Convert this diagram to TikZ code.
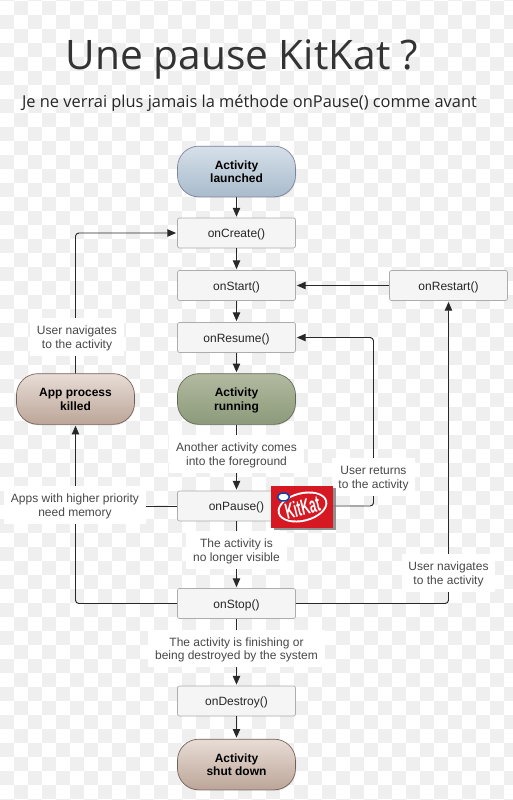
\documentclass[tikz,border=0pt]{standalone}
\usepackage{fontspec}
\setmainfont{Liberation Sans}
\newfontfamily\titlefont{Open Sans}
\usetikzlibrary{arrows.meta, shapes.geometric, shadows}
\definecolor{CheckGray}{RGB}{239, 239, 239}
\definecolor{LabelGray}{RGB}{72, 72, 72}
\definecolor{LineDark}{RGB}{40, 40, 40}
\definecolor{KitRed}{RGB}{214, 24, 34}
\definecolor{BlueTop}{RGB}{214, 224, 233}
\definecolor{BlueBot}{RGB}{168, 187, 204}
\definecolor{BlueEdge}{RGB}{125, 130, 160}
\definecolor{GreenTop}{RGB}{178, 186, 160}
\definecolor{GreenBot}{RGB}{140, 154, 122}
\definecolor{GreenEdge}{RGB}{95, 105, 85}
\definecolor{BrownTop}{RGB}{232, 221, 214}
\definecolor{BrownBot}{RGB}{188, 165, 152}
\definecolor{BrownEdge}{RGB}{115, 95, 85}
\tikzset{
    stepbox/.style={draw=black!32, fill=black!4, rounded corners=1.5pt, minimum width=88.5pt, minimum height=22.5pt, inner sep=0pt, text height=7pt, text depth=0pt, font=\fontsize{9}{11}\selectfont, text=black!85, line width=.5pt},
    statebox/.style={draw=#1Edge, top color=#1Top, bottom color=#1Bot, rounded corners=16pt, minimum width=88.5pt, minimum height=38pt, inner sep=0pt, align=center, text height=17pt, text depth=0pt, font=\fontsize{9}{10.3}\selectfont\bfseries, line width=.5pt, drop shadow={opacity=.25, shadow xshift=.4pt, shadow yshift=-.7pt}},
    note/.style={fill=white, align=center, text=LabelGray, inner xsep=5pt, inner ysep=5.5pt, text height=17pt, text depth=0pt, font=\fontsize{9}{10.3}\selectfont},
    flow/.style={-{Triangle[length=6.5pt,width=5.5pt]}, LineDark, line width=.7pt, shorten >=.8pt},
    bent/.style={flow, rounded corners=2.5pt},
}
\begin{document}
\begin{tikzpicture}[x=.75pt, y=-.75pt]
    \useasboundingbox (0,0) rectangle (513,800);
    % checker background
    \fill[white] (0,0) rectangle (513,800);
    \foreach \i in {0,...,36} {
        \foreach \j in {-1,...,57} {
            \pgfmathparse{int(mod(\i+\j+2,2))}
            \ifnum\pgfmathresult=1
                \fill[CheckGray] ({\i*14},{\j*14+1}) rectangle ++(14,14);
            \fi
        }
    }

    % title
    \node[anchor=base, text=black!80, font=\titlefont\fontsize{30.5}{33}\selectfont] (title) at (242,69) {Une pause KitKat ?};
    \node[anchor=base, text=black!85, font=\titlefont\fontsize{12.3}{14}\selectfont] (subtitle) at (249.5,107) {Je ne verrai plus jamais la méthode onPause() comme avant};

    % states
    \node[statebox=Blue] (launched) at (236.5,171.5) {Activity\\launched};
    \node[statebox=Green] (running) at (236.5,399) {Activity\\running};
    \node[statebox=Brown] (killed) at (75.5,399) {App process\\killed};
    \node[statebox=Brown] (shutdown) at (236.5,764.5) {Activity\\shut down};

    % callbacks
    \node[stepbox] (create) at (236.5,233) {onCreate()};
    \node[stepbox] (start) at (236.5,285.5) {onStart()};
    \node[stepbox] (resume) at (236.5,337.5) {onResume()};
    \node[stepbox] (pause) at (236.5,506) {onPause()};
    \node[stepbox] (stop) at (236.5,603.5) {onStop()};
    \node[stepbox] (destroy) at (236.5,701) {onDestroy()};
    \node[stepbox] (restart) at (448.5,285.5) {onRestart()};

    % corners of the long lines
    \coordinate (resumeturn) at (373.5,337.5);
    \coordinate (pauseturn) at (373.5,506);
    \coordinate (stopleft) at (75.5,603.5);
    \coordinate (stopright) at (448.5,603.5);
    \coordinate (pauseleft) at (75.5,506);

    % connectors
    \draw[flow] (launched) -- (create);
    \draw[flow] (create) -- (start);
    \draw[flow] (start) -- (resume);
    \draw[flow] (resume) -- (running);
    \draw[flow] (running) -- (pause);
    \draw[flow] (pause) -- (stop);
    \draw[flow] (stop) -- (destroy);
    \draw[flow] (destroy) -- (shutdown);
    \draw[flow] (restart) -- (start);
    \draw[bent] (killed) |- (create);
    \draw[bent] (stop.west) -- (stopleft) -- (killed.south);
    \draw[LineDark, line width=.7pt] (pause.west) -- (pauseleft);
    \draw[bent] (pause.east) -- (pauseturn) -- (resumeturn) -- (resume.east);
    \draw[bent] (stop.east) -- (stopright) -- (restart.south);

    % labels on the lines
    \node[note] (l1) at (77,337) {User navigates\\to the activity};
    \node[note] (l2) at (75,505) {Apps with higher priority\\need memory};
    \node[note] (l3) at (236.5,454) {Another activity comes\\into the foreground};
    \node[note] (l4) at (236.5,550) {The activity is\\no longer visible};
    \node[note] (l5) at (373.5,477) {User returns\\to the activity};
    \node[note] (l6) at (448.5,573) {User navigates\\to the activity};
    \node[note] (l7) at (236.5,648.5) {The activity is finishing or\\being destroyed by the system};

    % logo
    \node[fill=KitRed, minimum width=46.5pt, minimum height=31.5pt, inner sep=0pt, drop shadow={opacity=.85, shadow xshift=2pt, shadow yshift=-1.5pt}] (logo) at (302,507) {};
    \node[ellipse, fill=white, minimum width=38pt, minimum height=22pt, inner sep=0pt, rotate=14] (kitoval) at (302.5,507) {};
    \node[ellipse, fill=KitRed, minimum width=35pt, minimum height=19pt, inner sep=0pt, rotate=14] (kitinner) at (302.5,507) {};
    \node[text=white, rotate=14, xscale=.78, yscale=1.45, font=\fontsize{11.5}{12}\selectfont\bfseries, inner sep=0pt] (kittext) at (302.5,507.5) {KitKat};
    \node[ellipse, fill=white, draw=blue!60!cyan!70!black, line width=1.1pt, minimum width=9pt, minimum height=6pt, inner sep=0pt] (nestle) at (283.5,497) {};
\end{tikzpicture}
\end{document}
